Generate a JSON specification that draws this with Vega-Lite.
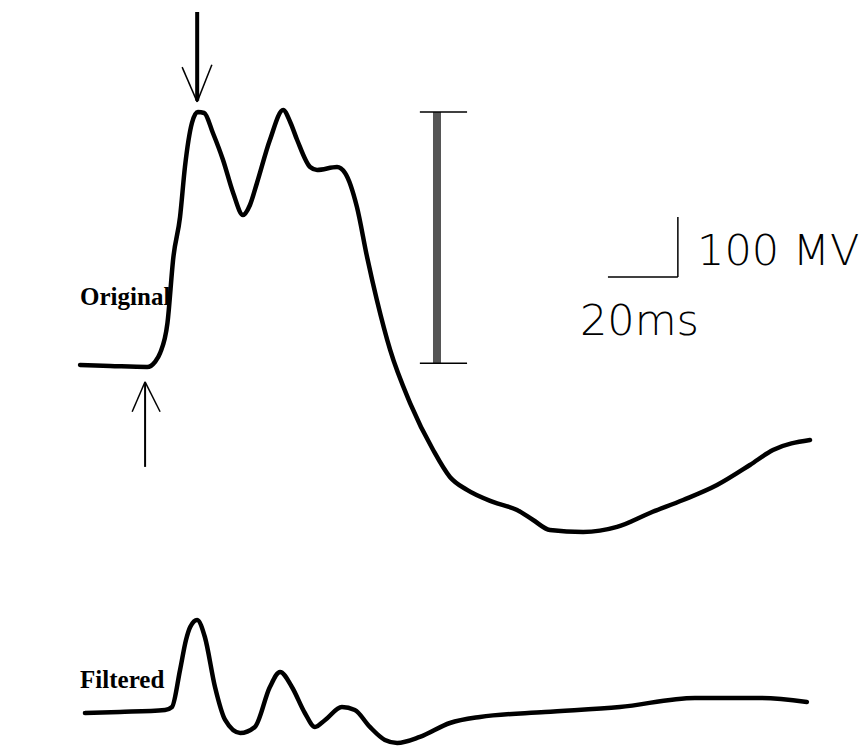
{
  "$schema": "https://vega.github.io/schema/vega-lite/v6.json",
  "width": 867,
  "height": 748,
  "autosize": "none",
  "padding": 0,
  "background": "white",
  "config": {"view": {"stroke": null}},
  "datasets": {
    "traces": [
      {"trace": "Original", "t": 2.9, "v": -1.0},
      {"trace": "Original", "t": 11.5, "v": -2.6},
      {"trace": "Original", "t": 22.1, "v": -4.3},
      {"trace": "Original", "t": 24.3, "v": 4.0},
      {"trace": "Original", "t": 25.8, "v": 19.0},
      {"trace": "Original", "t": 27.9, "v": 69.1},
      {"trace": "Original", "t": 29.6, "v": 179.2},
      {"trace": "Original", "t": 31.5, "v": 246.0},
      {"trace": "Original", "t": 32.9, "v": 329.4},
      {"trace": "Original", "t": 34.9, "v": 402.8},
      {"trace": "Original", "t": 36.6, "v": 421.1},
      {"trace": "Original", "t": 38.4, "v": 419.5},
      {"trace": "Original", "t": 40.9, "v": 386.1},
      {"trace": "Original", "t": 43.8, "v": 341.1},
      {"trace": "Original", "t": 46.7, "v": 286.0},
      {"trace": "Original", "t": 49.5, "v": 249.3},
      {"trace": "Original", "t": 51.5, "v": 266.0},
      {"trace": "Original", "t": 53.5, "v": 302.7},
      {"trace": "Original", "t": 57.2, "v": 374.4},
      {"trace": "Original", "t": 61.0, "v": 424.5},
      {"trace": "Original", "t": 63.0, "v": 404.5},
      {"trace": "Original", "t": 65.0, "v": 374.4},
      {"trace": "Original", "t": 68.7, "v": 329.4},
      {"trace": "Original", "t": 70.7, "v": 324.4},
      {"trace": "Original", "t": 76.4, "v": 329.4},
      {"trace": "Original", "t": 78.7, "v": 319.4},
      {"trace": "Original", "t": 82.1, "v": 262.6},
      {"trace": "Original", "t": 85.0, "v": 179.2},
      {"trace": "Original", "t": 87.8, "v": 107.5},
      {"trace": "Original", "t": 91.6, "v": 24.1},
      {"trace": "Original", "t": 97.3, "v": -64.4},
      {"trace": "Original", "t": 103.9, "v": -142.8},
      {"trace": "Original", "t": 108.7, "v": -187.8},
      {"trace": "Original", "t": 113.6, "v": -209.5},
      {"trace": "Original", "t": 121.0, "v": -229.5},
      {"trace": "Original", "t": 127.9, "v": -242.9},
      {"trace": "Original", "t": 132.5, "v": -259.6},
      {"trace": "Original", "t": 137.3, "v": -276.3},
      {"trace": "Original", "t": 146.8, "v": -279.6},
      {"trace": "Original", "t": 156.5, "v": -271.2},
      {"trace": "Original", "t": 165.9, "v": -247.9},
      {"trace": "Original", "t": 175.4, "v": -226.2},
      {"trace": "Original", "t": 185.1, "v": -201.2},
      {"trace": "Original", "t": 194.5, "v": -167.8},
      {"trace": "Original", "t": 201.1, "v": -142.8},
      {"trace": "Original", "t": 211.7, "v": -126.1},
      {"trace": "Filtered", "t": 4.3, "v": -581.6},
      {"trace": "Filtered", "t": 14.3, "v": -579.9},
      {"trace": "Filtered", "t": 27.2, "v": -576.6},
      {"trace": "Filtered", "t": 29.2, "v": -571.6},
      {"trace": "Filtered", "t": 31.5, "v": -509.8},
      {"trace": "Filtered", "t": 33.2, "v": -459.8},
      {"trace": "Filtered", "t": 34.4, "v": -438.1},
      {"trace": "Filtered", "t": 36.4, "v": -426.4},
      {"trace": "Filtered", "t": 38.6, "v": -454.8},
      {"trace": "Filtered", "t": 41.5, "v": -538.2},
      {"trace": "Filtered", "t": 44.4, "v": -593.2},
      {"trace": "Filtered", "t": 48.7, "v": -614.9},
      {"trace": "Filtered", "t": 52.9, "v": -604.9},
      {"trace": "Filtered", "t": 57.2, "v": -538.2},
      {"trace": "Filtered", "t": 60.1, "v": -513.2},
      {"trace": "Filtered", "t": 63.5, "v": -538.2},
      {"trace": "Filtered", "t": 67.2, "v": -581.6},
      {"trace": "Filtered", "t": 70.1, "v": -604.9},
      {"trace": "Filtered", "t": 73.0, "v": -593.2},
      {"trace": "Filtered", "t": 77.8, "v": -571.6},
      {"trace": "Filtered", "t": 81.5, "v": -576.6},
      {"trace": "Filtered", "t": 85.8, "v": -604.9},
      {"trace": "Filtered", "t": 90.1, "v": -626.6},
      {"trace": "Filtered", "t": 93.6, "v": -631.6},
      {"trace": "Filtered", "t": 100.1, "v": -621.6},
      {"trace": "Filtered", "t": 108.7, "v": -598.3},
      {"trace": "Filtered", "t": 117.3, "v": -588.2},
      {"trace": "Filtered", "t": 135.9, "v": -579.9},
      {"trace": "Filtered", "t": 157.3, "v": -571.6},
      {"trace": "Filtered", "t": 178.8, "v": -556.5},
      {"trace": "Filtered", "t": 197.4, "v": -556.5},
      {"trace": "Filtered", "t": 210.8, "v": -563.2}
    ],
    "segments": [
      {"kind": "bar", "t": 105.0, "v": 2, "t2": 105.0, "v2": 421},
      {"kind": "thin", "t": 100.1, "v": 421, "t2": 113.6, "v2": 421},
      {"kind": "thin", "t": 100.1, "v": 2, "t2": 113.6, "v2": 2},
      {"kind": "thin", "t": 153.9, "v": 146, "t2": 173.9, "v2": 146},
      {"kind": "thin", "t": 173.9, "v": 146, "t2": 173.9, "v2": 246},
      {"kind": "shaft", "t": 36.4, "v": 588, "t2": 36.4, "v2": 440},
      {"kind": "wing", "t": 32.1, "v": 496, "t2": 36.4, "v2": 438},
      {"kind": "wing", "t": 40.6, "v": 500, "t2": 36.4, "v2": 438},
      {"kind": "upshaft", "t": 21.5, "v": -171, "t2": 21.5, "v2": -31},
      {"kind": "wing", "t": 17.8, "v": -79, "t2": 21.5, "v2": -29},
      {"kind": "wing", "t": 25.8, "v": -79, "t2": 21.5, "v2": -29}
    ],
    "labels": [
      {"text": "Original", "t": 2.9, "v": 99},
      {"text": "Filtered", "t": 2.9, "v": -540}
    ],
    "units": [
      {"text": "100 MV", "t": 179.4, "v": 166},
      {"text": "20ms", "t": 145.9, "v": 49}
    ]
  },
  "layer": [
    {
      "data": {"name": "segments"},
      "transform": [{"filter": "datum.kind === 'bar'"}],
      "mark": {"type": "rule", "stroke": "#555555", "strokeWidth": 8},
      "encoding": {
        "x": {"field": "t", "type": "quantitative", "scale": {"domain": [-20, 228], "nice": false, "zero": false}, "axis": null},
        "y": {"field": "v", "type": "quantitative", "scale": {"domain": [-640, 608], "nice": false, "zero": false}, "axis": null},
        "x2": {"field": "t2"},
        "y2": {"field": "v2"}
      }
    },
    {
      "data": {"name": "segments"},
      "transform": [{"filter": "datum.kind === 'thin' || datum.kind === 'wing'"}],
      "mark": {"type": "rule", "stroke": "black", "strokeWidth": 1.5},
      "encoding": {
        "x": {"field": "t", "type": "quantitative"},
        "y": {"field": "v", "type": "quantitative"},
        "x2": {"field": "t2"},
        "y2": {"field": "v2"}
      }
    },
    {
      "data": {"name": "segments"},
      "transform": [{"filter": "datum.kind === 'shaft'"}],
      "mark": {"type": "rule", "stroke": "black", "strokeWidth": 4},
      "encoding": {
        "x": {"field": "t", "type": "quantitative"},
        "y": {"field": "v", "type": "quantitative"},
        "x2": {"field": "t2"},
        "y2": {"field": "v2"}
      }
    },
    {
      "data": {"name": "segments"},
      "transform": [{"filter": "datum.kind === 'upshaft'"}],
      "mark": {"type": "rule", "stroke": "black", "strokeWidth": 2},
      "encoding": {
        "x": {"field": "t", "type": "quantitative"},
        "y": {"field": "v", "type": "quantitative"},
        "x2": {"field": "t2"},
        "y2": {"field": "v2"}
      }
    },
    {
      "data": {"name": "traces"},
      "mark": {"type": "line", "color": "black", "strokeWidth": 4.5, "interpolate": "monotone", "strokeCap": "round", "strokeJoin": "round"},
      "encoding": {
        "x": {"field": "t", "type": "quantitative"},
        "y": {"field": "v", "type": "quantitative"},
        "detail": {"field": "trace", "type": "nominal"}
      }
    },
    {
      "data": {"name": "labels"},
      "mark": {"type": "text", "align": "left", "baseline": "alphabetic", "font": "Liberation Serif", "fontWeight": "bold", "fontSize": 25, "color": "black"},
      "encoding": {
        "x": {"field": "t", "type": "quantitative"},
        "y": {"field": "v", "type": "quantitative"},
        "text": {"field": "text"}
      }
    },
    {
      "data": {"name": "units"},
      "mark": {"type": "text", "align": "left", "baseline": "alphabetic", "font": "DejaVu Sans", "fontWeight": 200, "fontSize": 43, "color": "black"},
      "encoding": {
        "x": {"field": "t", "type": "quantitative"},
        "y": {"field": "v", "type": "quantitative"},
        "text": {"field": "text"}
      }
    }
  ]
}
